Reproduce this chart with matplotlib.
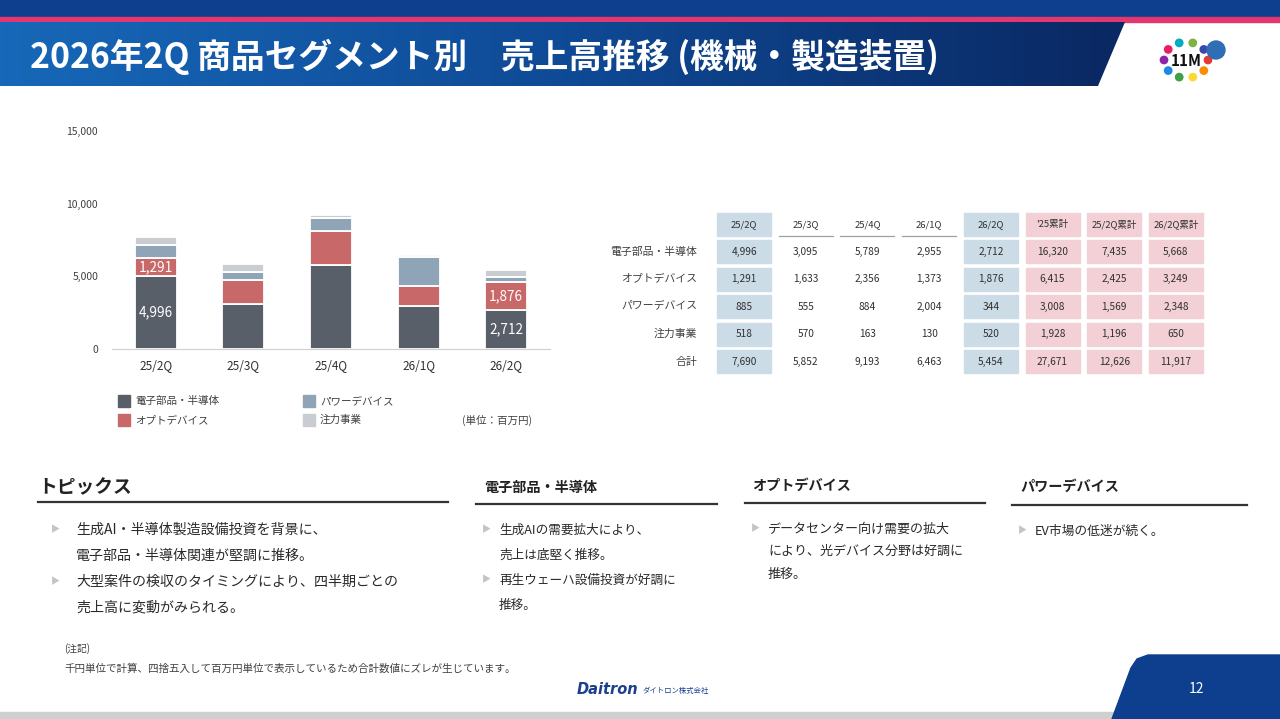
import matplotlib.pyplot as plt
import matplotlib.patches as patches
from matplotlib.colors import LinearSegmentedColormap
import numpy as np

plt.rcParams['font.family'] = ['Noto Sans CJK JP', 'DejaVu Sans']

# chart data (百万円)
quarters = ['25/2Q', '25/3Q', '25/4Q', '26/1Q', '26/2Q']
segments = ['電子部品・半導体', 'オプトデバイス', 'パワーデバイス', '注力事業']
denshi = [4996, 3095, 5789, 2955, 2712]
opto = [1291, 1633, 2356, 1373, 1876]
power = [885, 555, 884, 2004, 344]
chuuryoku = [518, 570, 163, 130, 520]
seg_colors = ['#595f69', '#c96869', '#8fa4b7', '#c9ccd1']
labelled_bars = [0, 4]

# table data
table_cols = ['25/2Q', '25/3Q', '25/4Q', '26/1Q', '26/2Q', "'25累計", '25/2Q累計', '26/2Q累計']
table_rows = ['電子部品・半導体', 'オプトデバイス', 'パワーデバイス', '注力事業', '合計']
table_vals = [
    [4996, 3095, 5789, 2955, 2712, 16320, 7435, 5668],
    [1291, 1633, 2356, 1373, 1876, 6415, 2425, 3249],
    [885, 555, 884, 2004, 344, 3008, 1569, 2348],
    [518, 570, 163, 130, 520, 1928, 1196, 650],
    [7690, 5852, 9193, 6463, 5454, 27671, 12626, 11917],
]
col_kind = ['blue', 'none', 'none', 'none', 'blue', 'pink', 'pink', 'pink']

title = '2026年2Q 商品セグメント別　売上高推移 (機械・製造装置)'
topics = ['生成AI・半導体製造設備投資を背景に、', '電子部品・半導体関連が堅調に推移。',
          '大型案件の検収のタイミングにより、四半期ごとの', '売上高に変動がみられる。']
denshi_notes = ['生成AIの需要拡大により、', '売上は底堅く推移。', '再生ウェーハ設備投資が好調に', '推移。']
opto_notes = ['データセンター向け需要の拡大', 'により、光デバイス分野は好調に', '推移。']
power_notes = ['EV市場の低迷が続く。']
note1 = '(注記)'
note2 = '千円単位で計算、四捨五入して百万円単位で表示しているため合計数値にズレが生じています。'

W, H = 1280, 719
fig = plt.figure(figsize=(12.8, 7.19), dpi=100)
bg = fig.add_axes([0, 0, 1, 1])
bg.axis('off')

# ---- header ----
bg.add_patch(patches.Rectangle((0, 0), W, 17, color='#0d3f8e', zorder=1))
bg.add_patch(patches.Rectangle((0, 17), W, 5, color='#e2386f', zorder=1))
cm = LinearSegmentedColormap.from_list('hdr', ['#1768b8', '#0f4a96', '#0a2862'])
grad = np.linspace(0, 1, 256).reshape(1, -1)
im = bg.imshow(grad, extent=[0, 1125, 86, 22], cmap=cm, aspect='auto', zorder=1)
clip = patches.Polygon([(0, 22), (1125, 22), (1098, 86), (0, 86)], closed=True,
                       facecolor='none', edgecolor='none')
bg.add_patch(clip)
im.set_clip_path(clip)
bg.text(30, 57, title, color='white', fontsize=24.3, fontweight='bold', va='center', ha='left', zorder=3)

# logo (rough)
dot_cols = ['#e53935', '#fb8c00', '#fdd835', '#43a047', '#1e88e5', '#8e24aa', '#e91e63', '#00acc1', '#7cb342', '#3949ab']
ang = np.linspace(0, 2 * np.pi, len(dot_cols), endpoint=False)
bg.scatter(1186 + 22 * np.cos(ang), 60 + 18 * np.sin(ang), s=28, c=dot_cols, zorder=3)
bg.text(1186, 61, '11M', fontsize=11, fontweight='bold', ha='center', va='center', color='#111111', zorder=4)
bg.add_patch(patches.Circle((1216, 50), 9, color='#2f6db5', zorder=3))

# ---- chart ----
ax = fig.add_axes([112 / W, 1 - 349 / H, 438 / W, 218 / H])
x = np.arange(len(quarters))
bottom = np.zeros(len(quarters))
for seg, vals, col in zip(segments, [denshi, opto, power, chuuryoku], seg_colors):
    ax.bar(x, vals, 0.48, bottom=bottom, color=col, edgecolor='white', linewidth=1.3, label=seg)
    bottom += np.array(vals)

base = np.zeros(len(quarters))
for vals in [denshi, opto]:
    for i in labelled_bars:
        ax.text(i, base[i] + vals[i] / 2, f'{vals[i]:,}', color='white', fontsize=9.8,
                ha='center', va='center')
    base = base + np.array(vals)

ax.set_xlim(-0.5, 4.5)
ax.set_ylim(0, 15000)
ax.set_yticks([0, 5000, 10000, 15000])
ax.set_yticklabels([f'{v:,}' for v in [0, 5000, 10000, 15000]])
ax.set_xticks(x)
ax.set_xticklabels(quarters)
ax.tick_params(axis='y', length=0, pad=10, labelsize=7.5, labelcolor='#404040')
ax.tick_params(axis='x', length=0, pad=7, labelsize=8.5, labelcolor='#303030')
for s in ['top', 'right', 'left']:
    ax.spines[s].set_visible(False)
ax.spines['bottom'].set_color('#d0d0d0')

# legend
leg_pos = [(118, 395), (118, 414), (303, 395), (303, 414)]
for (lx, ly), seg, col in zip(leg_pos, segments, seg_colors):
    bg.add_patch(patches.Rectangle((lx, ly), 12, 12, color=col, zorder=2))
    bg.text(lx + 17, ly + 6, seg, fontsize=7.6, color='#404040', va='center', ha='left', zorder=3)
bg.text(462, 420, '(単位：百万円)', fontsize=7.6, color='#404040', va='center', ha='left', zorder=3)

# ---- table ----
cx0, dx = 744, 61.7
ry0, dy = 224.5, 27.4
cw, chh = 54, 23
blue, pink = '#cbdce7', '#f2d0d5'
for j, c in enumerate(table_cols):
    cx = cx0 + j * dx
    if col_kind[j] == 'none':
        bg.plot([cx - cw / 2, cx + cw / 2], [ry0 + chh / 2, ry0 + chh / 2], color='#a0a0a0', lw=0.9, zorder=2)
    else:
        bg.add_patch(patches.Rectangle((cx - cw / 2, ry0 - chh / 2), cw, chh,
                                       color=blue if col_kind[j] == 'blue' else pink, zorder=1))
    bg.text(cx, ry0, c, fontsize=6.8, color='#303030', ha='center', va='center', zorder=3)
    for i, row in enumerate(table_vals):
        ry = ry0 + (i + 1) * dy
        if col_kind[j] != 'none':
            bg.add_patch(patches.Rectangle((cx - cw / 2, ry - chh / 2), cw, chh,
                                           color=blue if col_kind[j] == 'blue' else pink, zorder=1))
        bg.text(cx, ry, f'{row[j]:,}', fontsize=7.3, color='#303030', ha='center', va='center', zorder=3)
for i, r in enumerate(table_rows):
    bg.text(697, ry0 + (i + 1) * dy, r, fontsize=7.8, color='#404040', ha='right', va='center', zorder=3)

# ---- topics ----
def section(hx, hy, head, hsize, lx0, lx1, ly, lines, bullets, tx, bx, y0, step, size):
    bg.text(hx, hy, head, fontsize=hsize, fontweight='bold', color='#222222', va='center', ha='left', zorder=3)
    bg.plot([lx0, lx1], [ly, ly], color='#333333', lw=1.6, zorder=2)
    for k, line in enumerate(lines):
        yy = y0 + k * step
        if k in bullets:
            bg.text(bx, yy, '▶', fontsize=6.5, color='#c4c4c4', va='center', ha='left', zorder=3)
        bg.text(tx, yy, line, fontsize=size, color='#2a2a2a', va='center', ha='left', zorder=3)

section(38, 488, 'トピックス', 13.5, 38, 448, 502, topics, [0, 2], 76, 51, 530, 25.7, 10.1)
section(484, 488, '電子部品・半導体', 10.2, 476, 717, 504, denshi_notes, [0, 2], 499, 482, 530, 25, 9.1)
section(752, 486, 'オプトデバイス', 10.2, 745, 985, 503, opto_notes, [0], 768, 751, 529, 22.5, 9.4)
section(1020, 487, 'パワーデバイス', 10.2, 1012, 1247, 505, power_notes, [0], 1035, 1018, 531, 22, 9.2)

# ---- footer ----
bg.text(64, 649, note1, fontsize=7, color='#404040', va='center', ha='left')
bg.text(64, 669, note2, fontsize=7.6, color='#404040', va='center', ha='left')
bg.text(577, 690, 'Daitron', fontsize=10.5, fontweight='bold', fontstyle='italic', color='#1c3f8f',
        va='center', ha='left', family='DejaVu Sans')
bg.text(643, 691, 'ダイトロン株式会社', fontsize=5.3, color='#1c3f8f', va='center', ha='left')
bg.add_patch(patches.Rectangle((0, 712), 1118, 7, color='#cfcfcf', zorder=1))
foot = patches.Polygon([(1112, 719), (1131, 668), (1137, 659), (1148, 655), (W, 655), (W, 719)],
                       closed=True, color='#0d3f8e', zorder=2)
bg.add_patch(foot)
bg.text(1196, 689, '12', fontsize=10, color='white', va='center', ha='center', zorder=3)

bg.set_xlim(0, W)
bg.set_ylim(H, 0)

fig.savefig('out.png', dpi=100)
